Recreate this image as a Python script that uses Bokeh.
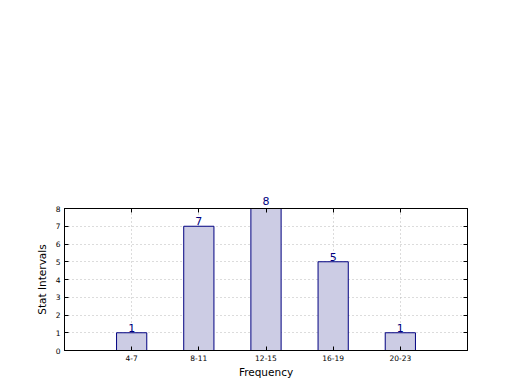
from bokeh.plotting import figure
from bokeh.models import ColumnDataSource, FixedTicker, LinearAxis, Range1d, Label
from bokeh.embed import file_html
from bokeh.resources import INLINE

categories = ["4-7", "8-11", "12-15", "16-19", "20-23"]
counts = [1, 7, 8, 5, 1]
y_ticks = [0, 1, 2, 3, 4, 5, 6, 7, 8]

idx = list(range(len(categories)))
y_max = max(y_ticks)
src = ColumnDataSource(dict(x=idx, top=counts))

p = figure(frame_width=403, frame_height=142, min_border_left=64, min_border_top=208,
           min_border_right=45, min_border_bottom=32, output_backend="svg",
           toolbar_location=None, x_range=Range1d(-1, 5), y_range=Range1d(0, y_max))
p.background_fill_color = "white"
p.border_fill_color = "white"
p.outline_line_color = "black"
p.outline_line_width = 1

p.vbar(x="x", top="top", width=0.45, source=src, fill_color="#ccccE4",
       line_color="#000080", line_width=1)
# labels inside the frame
for i, c in zip(idx, counts):
    if c < y_max:
        p.add_layout(Label(x=i, y=c, text=str(c), text_align="center",
                           text_baseline="bottom", y_offset=1, text_color="#000080",
                           text_font="DejaVu Sans", text_font_size="11px",
                           level="overlay"))

font = "DejaVu Sans"
for ax in [p.xaxis[0], p.yaxis[0]]:
    ax.major_tick_in = 4
    ax.major_tick_out = 0
    ax.minor_tick_line_color = None
    ax.axis_line_color = "black"
    ax.major_label_text_font = font
    ax.major_label_text_font_size = "7.5px"
    ax.major_label_text_color = "black"
    ax.axis_label_text_font = font
    ax.axis_label_text_font_size = "10.5px"
    ax.axis_label_text_font_style = "normal"
    ax.axis_label_text_color = "black"

p.xaxis[0].ticker = FixedTicker(ticks=idx)
p.xaxis[0].major_label_overrides = {i: c for i, c in zip(idx, categories)}
p.xaxis[0].axis_label = "Frequency"
p.xaxis[0].axis_label_standoff = 2
p.xaxis[0].major_label_standoff = 4
p.yaxis[0].ticker = FixedTicker(ticks=y_ticks)
p.yaxis[0].axis_label = "Stat Intervals"
p.yaxis[0].axis_label_standoff = 5
p.yaxis[0].major_label_standoff = 4

right = LinearAxis(ticker=FixedTicker(ticks=y_ticks), major_label_text_alpha=0,
                   major_tick_in=4, major_tick_out=0, minor_tick_line_color=None,
                   axis_line_color="black", major_label_text_font_size="1px")
p.add_layout(right, "right")
# top axis: ticks, plus value labels of bars reaching the top of the frame
top = LinearAxis(ticker=FixedTicker(ticks=idx),
                 major_label_overrides={i: (str(c) if c >= y_max else " ")
                                        for i, c in zip(idx, counts)},
                 major_tick_in=4, major_tick_out=0, minor_tick_line_color=None,
                 axis_line_color="black", major_label_text_color="#000080",
                 major_label_text_font=font, major_label_text_font_size="11px",
                 major_label_standoff=1)
p.add_layout(top, "above")

p.xgrid.ticker = FixedTicker(ticks=idx)
p.ygrid.ticker = FixedTicker(ticks=y_ticks)
for g in [p.xgrid[0], p.ygrid[0]]:
    g.grid_line_color = "#b8b8b8"
    g.grid_line_dash = "1 3"
    g.grid_line_width = 1

open("out.html", "w").write(file_html(p, INLINE))
